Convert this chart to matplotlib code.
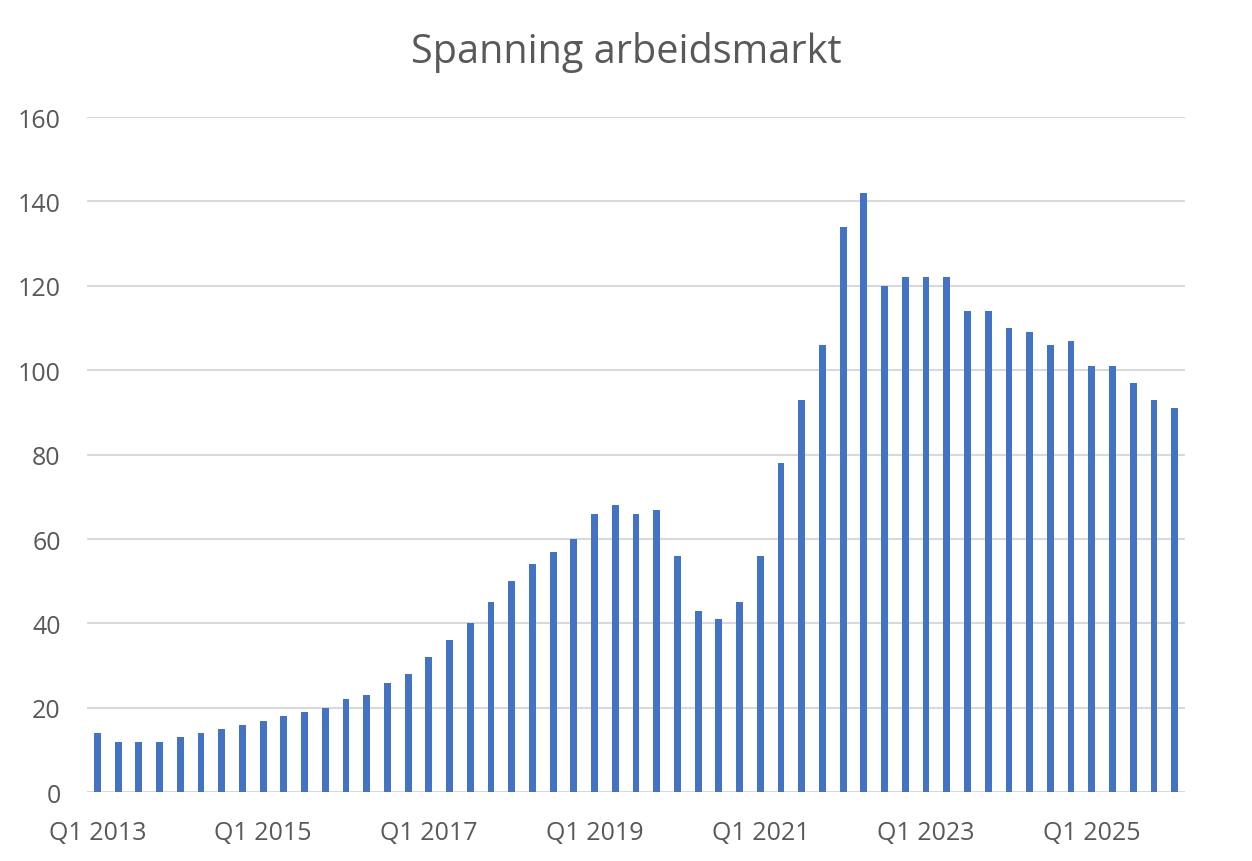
import matplotlib.pyplot as plt
import numpy as np

# Quarterly values, Q1 2013 .. Q1 2026
years = list(range(2013, 2027))
quarters = [f'Q{q} {y}' for y in years for q in range(1, 5)][:53]
values = [14, 12, 12, 12, 13, 14, 15, 16, 17, 18,
          19, 20, 22, 23, 26, 28, 32, 36, 40, 45,
          50, 54, 57, 60, 66, 68, 66, 67, 56, 43,
          41, 45, 56, 78, 93, 106, 134, 142, 120, 122,
          122, 122, 114, 114, 110, 109, 106, 107, 101, 101,
          97, 93, 91]
y_ticks = [0, 20, 40, 60, 80, 100, 120, 140, 160]

plt.rcParams['font.family'] = ['Open Sans', 'DejaVu Sans']

fig = plt.figure(figsize=(12.52, 8.62), dpi=100)
ax = fig.add_axes([0.0695, 0.0797, 0.877, 0.7833])

x = np.arange(len(values))
ax.bar(x, values, width=0.33, color='#4472C4', zorder=3)

ax.set_xlim(-0.5, len(values) - 0.5)
ax.set_ylim(0, 160)
ax.set_yticks(y_ticks)
ax.set_yticklabels([str(v) for v in y_ticks])
ax.set_xticks(x[::8])
ax.set_xticklabels(quarters[::8])

ax.grid(axis='y', color='#D9D9D9', linewidth=1.5, zorder=0)
ax.set_axisbelow(True)
for s in ax.spines.values():
    s.set_visible(False)
ax.tick_params(axis='both', length=0, labelsize=18, colors='#595959')
ax.tick_params(axis='y', pad=19)
ax.tick_params(axis='x', pad=20)

fig.text(0.5, 0.927, 'Spanning arbeidsmarkt', ha='center', va='baseline',
         fontsize=28.5, color='#595959')

fig.savefig('out.png', dpi=100)
